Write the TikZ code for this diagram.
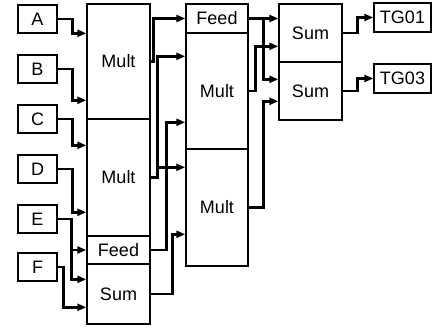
\documentclass[tikz,border=0pt]{standalone}
\usepackage{fontspec}
\setmainfont{Liberation Sans}
\usetikzlibrary{arrows.meta}
\begin{document}
\begin{tikzpicture}[x=1pt,y=-1pt,
  blk/.style={draw=black,line width=1.4pt,fill=white,inner sep=0pt,
    font=\fontsize{18}{20}\selectfont},
  conn/.style={line width=2.7pt,-{Triangle[length=9pt,width=7pt]}},
  wire/.style={line width=2.7pt}]
\useasboundingbox (0,0) rectangle (434,328);
% inputs
\foreach \n/\y in {A/19,B/69,C/119,D/169,E/219,F/267}
  \node[blk,minimum width=39pt,minimum height=28pt] (\n) at (37.5,\y) {\n};
% column 1
\node[blk,minimum width=63pt,minimum height=115pt] (M1) at (118.5,61.5) {Mult};
\node[blk,minimum width=63pt,minimum height=117pt] (M2) at (118.5,177.5) {Mult};
\node[blk,minimum width=63pt,minimum height=28pt] (F1) at (118.5,250) {Feed};
\node[blk,minimum width=63pt,minimum height=60pt] (S1) at (118.5,294) {Sum};
% column 2
\node[blk,minimum width=62pt,minimum height=29pt] (F2) at (217,18.5) {Feed};
\node[blk,minimum width=62pt,minimum height=116pt] (MB) at (217,91) {Mult};
\node[blk,minimum width=62pt,minimum height=117pt] (MC) at (217,207.5) {Mult};
% column 3
\node[blk,minimum width=63pt,minimum height=58pt] (SA) at (310.5,33) {Sum};
\node[blk,minimum width=63pt,minimum height=58pt] (SB) at (310.5,91) {Sum};
% outputs
\node[blk,minimum width=57pt,minimum height=29pt] (T1) at (402.5,17.5) {TG01};
\node[blk,minimum width=57pt,minimum height=29pt] (T3) at (402.5,78.5) {TG03};
% input connectors
\draw[conn] (A.east) -- ++(15,0) |- ([yshift=-30pt]M1.north west);
\draw[conn] (B.east) -- ++(15,0) |- ([yshift=-97pt]M1.north west);
\draw[conn] (C.east) -- ++(15,0) |- ([yshift=-27pt]M2.north west);
\draw[conn] (D.east) -- ++(15,0) |- ([yshift=-94pt]M2.north west);
\draw[conn] (E.east) -- ++(14,0) |- (F1.west);
\draw[conn] (E.east) -- ++(14,0) |- ([yshift=-16pt]S1.north west);
\draw[conn] (F.east) -- ++(6,0) |- ([yshift=-44pt]S1.north west);
% column 1 outputs
\draw[conn] (M1.east) -- ++(2.5,0) |- (F2.west);
\draw[conn] (M2.east) -- ++(7,0) |- ([yshift=-24pt]MB.north west);
\draw[conn] (M2.east) -- ++(7,0) |- ([yshift=-19pt]MC.north west);
\draw[conn] (F1.east) -- ++(16,0) |- ([yshift=-90pt]MB.north west);
\draw[conn] (S1.east) -- ++(22,0) |- ([yshift=-86pt]MC.north west);
% column 2 outputs
\draw[conn] (F2.east) -- (F2.east -| SA.west);
\draw[conn] (F2.east) -- ++(15,0) |- ([yshift=-18pt]SB.north west);
\draw[conn] (MB.east) -- ++(7,0) |- ([yshift=-43pt]SA.north west);
\draw[conn] (MC.east) -- ++(15,0) |- ([yshift=-40pt]SB.north west);
% column 3 outputs
\draw[conn] (SA.east) -- ++(15,0) |- (T1.west);
\draw[conn] (SB.east) -- ++(15,0) |- (T3.west);
\end{tikzpicture}
\end{document}
